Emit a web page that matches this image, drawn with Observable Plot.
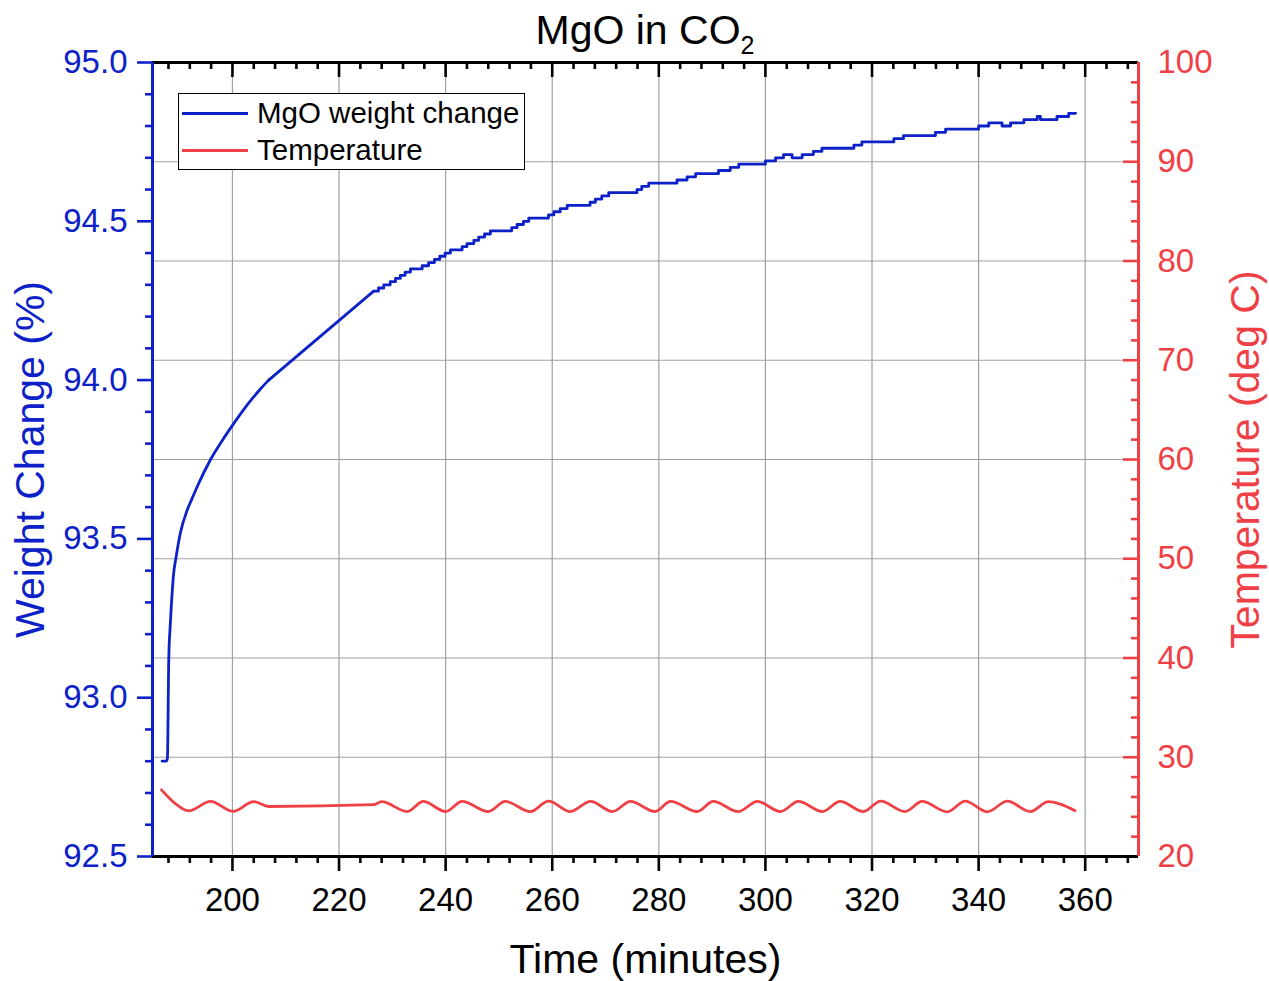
<!DOCTYPE html>
<html>
<head>
<meta charset="utf-8">
<script src="https://cdn.jsdelivr.net/npm/d3@7"></script>
<script src="https://cdn.jsdelivr.net/npm/@observablehq/plot@0.6"></script>
<style>
  body { margin: 0; background: #fff; font-family: "Liberation Sans", Arial, sans-serif; }
  #wrap { position: relative; width: 1269px; height: 981px; }
  #title { position: absolute; left: 152px; width: 986px; top: 10px; text-align: center; font-size: 41px; line-height: 41px; color: #000; }
  #title sub { font-size: 25px; vertical-align: -10px; line-height: 0; }
  #legend { position: absolute; left: 178px; top: 93px; width: 345px; height: 75px; border: 1px solid #000; background: #fff; }
  .lg-line { position: absolute; left: 3px; width: 66px; height: 3px; }
  .lg-text { position: absolute; left: 78px; font-size: 29.5px; line-height: 30px; color: #000; white-space: nowrap; }
</style>
</head>
<body>
<div id="wrap">
  <div id="chart"></div>
  <div id="title">MgO in CO<sub>2</sub></div>
  <div id="legend">
    <div class="lg-line" id="lgBlue" style="top:18px"></div>
    <div class="lg-text" style="top:4px">MgO weight change</div>
    <div class="lg-line" id="lgRed" style="top:55px"></div>
    <div class="lg-text" style="top:41px">Temperature</div>
  </div>
</div>
<script>
// ---- colours ----
const blue = "#0c22c8";
const red = "#ef4045";

// ---- axis domains and ticks ----
const xDomain = [185, 370];
const yDomain = [92.5, 95.0];
const tempDomain = [20, 100];
const xMajorTicks = [200, 220, 240, 260, 280, 300, 320, 340, 360];
const xMinorTicks = d3.range(188, 370, 4).filter(v => v % 20 !== 0);
const yMajorTicks = [92.5, 93.0, 93.5, 94.0, 94.5, 95.0];
const yMinorTicks = d3.range(926, 950, 1).filter(v => v % 5 !== 0).map(v => v / 10);
const tempMajorTicks = [20, 30, 40, 50, 60, 70, 80, 90, 100];
const tempMinorTicks = d3.range(22, 100, 2).filter(v => v % 10 !== 0);
const tempGrid = [30, 40, 50, 60, 70, 80, 90];

// ---- weight change (%) : smooth early part ----
const weightTime  = [186.8, 187.6, 187.8, 188.05, 188.3, 188.5, 188.9, 189.5, 190.25, 191.5, 192.4, 193.4, 195.9, 198.1, 199.9, 201.8, 203.4, 205.25, 206.8];
const weightValue = [92.80, 92.80, 92.81, 93.12, 93.22, 93.28, 93.38, 93.45, 93.52, 93.59, 93.626, 93.665, 93.75, 93.81, 93.855, 93.90, 93.935, 93.972, 94.00];

// ---- weight change (%) : straight segment ----
const linearTime = [206.8, 226.5];
const linearValue = [94.00, 94.28];

// ---- weight change (%) : stepped part ----
const stepTime = [226.5, 227.4, 228.4, 229.6, 230.6, 231.5, 232.4, 233.4, 235.6, 236.8, 237.9, 238.9, 239.9, 240.9, 243.1, 244.0, 245.3, 246.2, 247.3, 248.4,
  252.4, 253.4, 254.6, 255.6, 259.3, 260.3, 261.5, 262.8, 267.1, 268.1, 269.3, 270.6, 275.9, 276.8, 278.1, 283.4, 285.3, 286.9, 291.2, 293.4,
  295.0, 300.0, 301.9, 303.4, 305.0, 306.9, 309.0, 310.6, 316.6, 318.1, 324.1, 325.9, 331.9, 333.8, 340.0, 341.9, 344.4, 346.0, 348.5, 351.0,
  351.6, 354.7, 356.9, 358.2];
const stepValue = [94.28, 94.29, 94.30, 94.31, 94.32, 94.33, 94.34, 94.35, 94.36, 94.37, 94.38, 94.39, 94.40, 94.41, 94.42, 94.43, 94.44, 94.45, 94.46, 94.47,
  94.48, 94.49, 94.50, 94.51, 94.52, 94.53, 94.54, 94.55, 94.56, 94.57, 94.58, 94.59, 94.60, 94.61, 94.62, 94.63, 94.64, 94.65, 94.66, 94.67,
  94.68, 94.69, 94.70, 94.71, 94.70, 94.71, 94.72, 94.73, 94.74, 94.75, 94.76, 94.77, 94.78, 94.79, 94.80, 94.81, 94.80, 94.81, 94.82, 94.83,
  94.82, 94.83, 94.84, 94.84];

// ---- temperature (deg C) ----
const tempTime = [186.7, 189.0, 191.8, 195.9, 200.1, 204.0, 206.8, 226.5, 228.0, 232.8, 235.8, 240.0, 243.1, 248.0, 251.2, 255.9, 259.3, 263.4, 267.2,
  271.3, 274.7, 279.3, 282.2, 287.2, 290.2, 294.9, 298.5, 302.8, 306.2, 310.7, 314.0, 318.4, 321.6, 326.2, 329.4, 334.1, 337.5, 341.6,
  345.4, 349.7, 353.1, 358.1];
const tempValue = [26.72, 25.46, 24.60, 25.55, 24.55, 25.52, 25.04, 25.22, 25.52, 24.53, 25.55, 24.53, 25.55, 24.53, 25.55, 24.53, 25.58, 24.53, 25.55,
  24.53, 25.55, 24.53, 25.55, 24.53, 25.55, 24.53, 25.55, 24.53, 25.55, 24.53, 25.55, 24.53, 25.58, 24.53, 25.55, 24.50, 25.58, 24.50,
  25.58, 24.53, 25.52, 24.62];

// map temperature onto the left (weight) scale domain
const tempToY = t => yDomain[0] + (t - tempDomain[0]) * (yDomain[1] - yDomain[0]) / (tempDomain[1] - tempDomain[0]);
const yToTemp = y => tempDomain[0] + (y - yDomain[0]) * (tempDomain[1] - tempDomain[0]) / (yDomain[1] - yDomain[0]);

const weightData = weightTime.map((t, i) => ({t, v: weightValue[i]}));
const linearData = linearTime.map((t, i) => ({t, v: linearValue[i]}));
const stepData = stepTime.map((t, i) => ({t, v: stepValue[i]}));
const tempData = tempTime.map((t, i) => ({t, v: tempToY(tempValue[i])}));

const W = 1269, H = 981, mL = 152, mR = 131, mT = 62, mB = 125;
const plotW = W - mL - mR, plotH = H - mT - mB;
const font = "'Liberation Sans', Arial, sans-serif";

const chart = Plot.plot({
  width: W, height: H,
  marginLeft: mL, marginRight: mR, marginTop: mT, marginBottom: mB,
  x: {domain: xDomain, label: null},
  y: {domain: yDomain, label: null},
  style: {fontFamily: font, background: "white"},
  marks: [
    // grid
    Plot.ruleX(xMajorTicks, {x: d => d, stroke: "#a0a0a0", strokeWidth: 1.2}),
    Plot.ruleY(tempGrid, {y: d => tempToY(d), stroke: "#a0a0a0", strokeWidth: 1.2}),
    // data
    Plot.line(tempData, {x: "t", y: "v", stroke: red, strokeWidth: 2.8, curve: "monotone-x"}),
    Plot.line(weightData, {x: "t", y: "v", stroke: blue, strokeWidth: 2.8, curve: "monotone-x"}),
    Plot.line(linearData, {x: "t", y: "v", stroke: blue, strokeWidth: 2.8}),
    Plot.line(stepData, {x: "t", y: "v", stroke: blue, strokeWidth: 2.8, curve: "step-after"}),
    // bottom ticks (outward)
    Plot.tickX(xMajorTicks, {x: d => d, insetTop: plotH, insetBottom: -15, stroke: "#000", strokeWidth: 2.6}),
    Plot.tickX(xMinorTicks, {x: d => d, insetTop: plotH, insetBottom: -7, stroke: "#000", strokeWidth: 2.6}),
    // top ticks (inward)
    Plot.tickX(xMajorTicks, {x: d => d, insetTop: 0, insetBottom: plotH - 15, stroke: "#000", strokeWidth: 2.6}),
    Plot.tickX(xMinorTicks, {x: d => d, insetTop: 0, insetBottom: plotH - 7, stroke: "#000", strokeWidth: 2.6}),
    // left ticks (outward)
    Plot.tickY(yMajorTicks, {y: d => d, insetLeft: -15, insetRight: plotW, stroke: blue, strokeWidth: 2.6}),
    Plot.tickY(yMinorTicks, {y: d => d, insetLeft: -7, insetRight: plotW, stroke: blue, strokeWidth: 2.6}),
    // right ticks (inward)
    Plot.tickY(tempMajorTicks, {y: d => tempToY(d), insetLeft: plotW - 15, insetRight: 0, stroke: red, strokeWidth: 2.6}),
    Plot.tickY(tempMinorTicks, {y: d => tempToY(d), insetLeft: plotW - 7, insetRight: 0, stroke: red, strokeWidth: 2.6}),
    // frame
    Plot.ruleY([yDomain[1]], {stroke: "#000", strokeWidth: 3}),
    Plot.ruleY([yDomain[0]], {stroke: "#000", strokeWidth: 3}),
    Plot.ruleX([xDomain[0]], {stroke: blue, strokeWidth: 3}),
    Plot.ruleX([xDomain[1]], {stroke: red, strokeWidth: 3}),
    // tick labels
    Plot.axisX({anchor: "bottom", ticks: xMajorTicks, tickSize: 0, tickPadding: 31, fontSize: 33, color: "#000", label: null}),
    Plot.axisY({anchor: "left", ticks: yMajorTicks, tickSize: 0, tickPadding: 25, fontSize: 33, color: blue, tickFormat: d3.format(".1f"), label: null}),
    Plot.axisY({anchor: "right", ticks: tempMajorTicks.map(tempToY), tickSize: 0, tickPadding: 19, fontSize: 33, color: red, tickFormat: d => String(Math.round(yToTemp(d))), label: null}),
    // axis titles
    Plot.text(["Time (minutes)"], {text: d => d, frameAnchor: "bottom", dy: 103, fontSize: 41, fill: "#000", lineAnchor: "middle", textAnchor: "middle"}),
    Plot.text(["Weight Change (%)"], {text: d => d, frameAnchor: "left", dx: -122, rotate: -90, fontSize: 41, fill: blue, lineAnchor: "middle", textAnchor: "middle"}),
    Plot.text(["Temperature (deg C)"], {text: d => d, frameAnchor: "right", dx: 107, rotate: -90, fontSize: 41, fill: red, lineAnchor: "middle", textAnchor: "middle"})
  ]
});
document.getElementById("chart").appendChild(chart);
document.getElementById("lgBlue").style.background = blue;
document.getElementById("lgRed").style.background = red;
</script>
</body>
</html>
